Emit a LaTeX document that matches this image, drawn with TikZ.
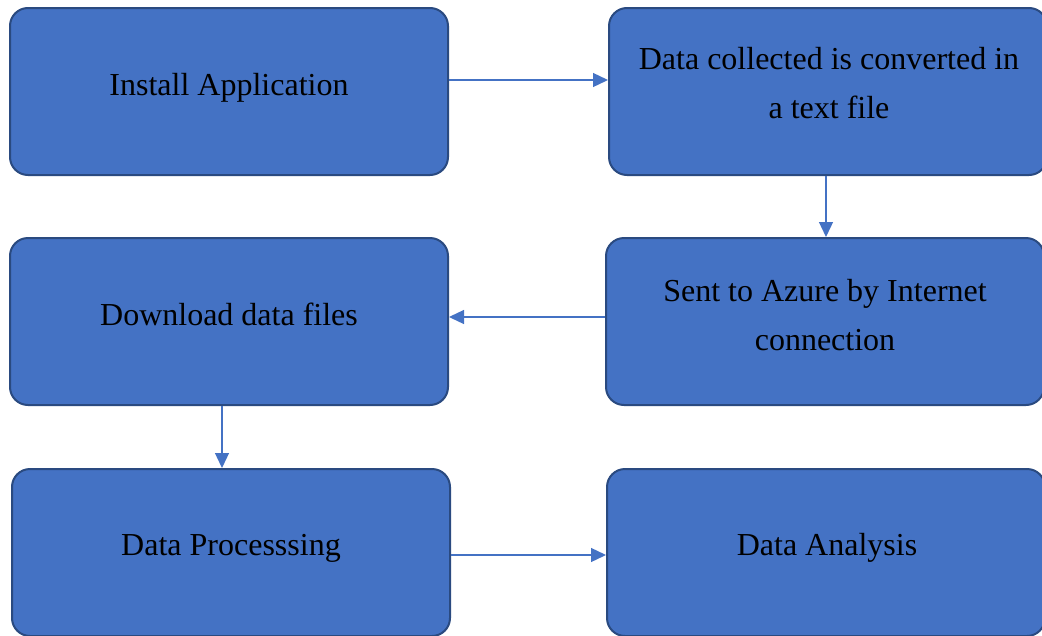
\documentclass[tikz,border=0pt]{standalone}
\usepackage{fontspec}
\setmainfont{Liberation Serif}
\usetikzlibrary{arrows.meta}
\definecolor{boxfill}{HTML}{4472C4}
\definecolor{boxline}{HTML}{2A4A80}
\definecolor{arrowcol}{HTML}{4472C4}
\tikzset{
  stepbox/.style={draw=boxline, line width=2pt, fill=boxfill, rounded corners=18pt,
    minimum width=438pt, minimum height=167pt, inner sep=0pt},
  label text/.style={anchor=base, align=center, inner sep=0pt, text=black,
    font=\fontsize{32}{49}\selectfont},
  flow/.style={draw=arrowcol, line width=1.3pt, -{Triangle[length=15pt,width=14pt]}}
}
\begin{document}
\begin{tikzpicture}[x=1pt,y=-1pt]
\useasboundingbox (0,0) rectangle (1042,635);
\node[stepbox] (b1) at (229,91.5) {};
\node[stepbox] (b2) at (828,91.5) {};
\node[stepbox] (b3) at (229,321.5) {};
\node[stepbox] (b4) at (825,321.5) {};
\node[stepbox] (b5) at (231,552.5) {};
\node[stepbox] (b6) at (826,552.5) {};
\node[label text] (t1) at (229,95) {Install Application};
\node[label text] (t2) at (829,118) {Data collected is converted in\\a text file};
\node[label text] (t3) at (229,325) {Download data files};
\node[label text] (t4) at (825,350) {Sent to Azure by Internet\\connection};
\node[label text] (t5) at (231,555) {Data Processsing};
\node[label text] (t6) at (827,555) {Data Analysis};
\draw[flow] ([yshift=11.5pt]b1.east) -- ([yshift=11.5pt]b2.west);
\draw[flow] ([xshift=-2pt]b2.south) -- ([xshift=1pt]b4.north);
\draw[flow] ([yshift=4.5pt]b4.west) -- ([yshift=4.5pt]b3.east);
\draw[flow] ([xshift=-7pt]b3.south) -- ([xshift=-9pt]b5.north);
\draw[flow] ([yshift=-2.5pt]b5.east) -- ([yshift=-2.5pt]b6.west);
\end{tikzpicture}
\end{document}
